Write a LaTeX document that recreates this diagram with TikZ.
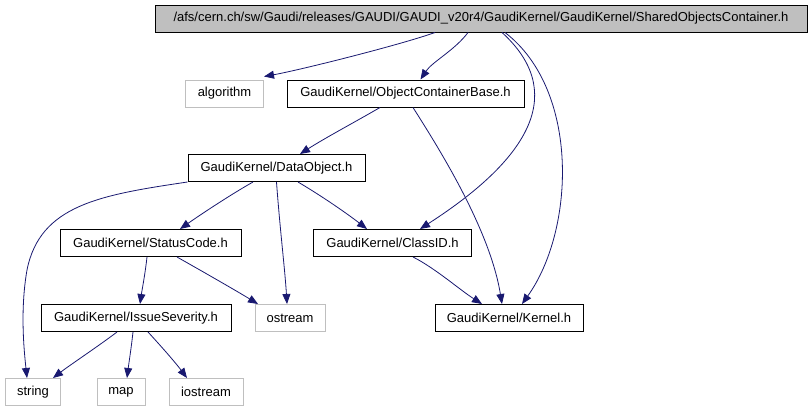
\documentclass[tikz,border=0pt]{standalone}
\usepackage{fontspec}
\setmainfont{Liberation Sans}
\usetikzlibrary{arrows.meta}

\definecolor{edgeblue}{HTML}{191970}
\definecolor{boxgray}{HTML}{BFBFBF}

\tikzset{every picture/.style={line width=0.75pt}}
\tikzset{
  incfile/.style={draw=black, line width=1pt, inner sep=0pt, minimum height=27, font=\fontsize{13}{15}\selectfont},
  sysfile/.style={incfile, draw=boxgray},
  rootfile/.style={incfile, fill=boxgray},
  incarrow/.style={draw=edgeblue, line width=0.8pt, -{Triangle[length=10pt,width=8pt]}, edgeblue}
}

\begin{document}
\begin{tikzpicture}[x=1pt,y=1pt,yscale=-1]
\useasboundingbox (0,0) rectangle (812,410);

%Files
\node[rootfile, minimum width=652] (shared) at (481,18.5) {/afs/cern.ch/sw/Gaudi/releases/GAUDI/GAUDI\_v20r4/GaudiKernel/GaudiKernel/SharedObjectsContainer.h};
\node[sysfile, minimum width=78] (algorithm) at (224.5,93.5) {algorithm};
\node[incfile, minimum width=237] (objbase) at (405.5,93.5) {GaudiKernel/ObjectContainerBase.h};
\node[incfile, minimum width=177] (dataobj) at (276.5,168) {GaudiKernel/DataObject.h};
\node[incfile, minimum width=181] (statuscode) at (150.5,243) {GaudiKernel/StatusCode.h};
\node[incfile, minimum width=158] (classid) at (392.5,243) {GaudiKernel/ClassID.h};
\node[incfile, minimum width=190] (severity) at (136,318) {GaudiKernel/IssueSeverity.h};
\node[sysfile, minimum width=70] (ostream) at (290,318) {ostream};
\node[incfile, minimum width=148] (kernel) at (509,318) {GaudiKernel/Kernel.h};
\node[sysfile, minimum width=55] (string) at (33,392) {string};
\node[sysfile, minimum width=48] (map) at (121,392) {map};
\node[sysfile, minimum width=74] (iostream) at (206,392) {iostream};

%Includes of SharedObjectsContainer.h
\draw[incarrow] ([xshift=-46pt]shared.south) .. controls (400,45) and (300,70) .. ([yshift=-3pt]algorithm.north east);
\draw[incarrow] ([xshift=-13pt]shared.south) .. controls (455,50) and (432,62) .. ([xshift=15pt]objbase.north);
\draw[incarrow] ([xshift=21pt]shared.south) .. controls (565,90) and (535,155) .. ([xshift=27.5pt]classid.north);
\draw[incarrow] ([xshift=24pt]shared.south) .. controls (580,90) and (575,230) .. ([xshift=13pt]kernel.north);

%Includes of ObjectContainerBase.h
\draw[incarrow] ([xshift=-25.5pt]objbase.south) .. controls (355,122) and (325,138) .. ([xshift=23.5pt]dataobj.north);
\draw[incarrow] ([xshift=7.5pt]objbase.south) .. controls (440,150) and (490,230) .. ([xshift=-7pt]kernel.north);

%Includes of DataObject.h
\draw[incarrow] (dataobj.south west) .. controls (100,195) and (40,205) .. (27,270) .. controls (20,310) and (24,350) .. ([xshift=-6pt]string.north);
\draw[incarrow] ([xshift=-23.5pt]dataobj.south) .. controls (230,195) and (200,215) .. ([xshift=29.5pt]statuscode.north);
\draw[incarrow] (dataobj.south) .. controls (280,230) and (285,270) .. ([xshift=-3pt]ostream.north);
\draw[incarrow] ([xshift=21.5pt]dataobj.south) .. controls (320,195) and (345,212) .. ([xshift=-25.5pt]classid.north);

%Includes of StatusCode.h
\draw[incarrow] ([xshift=-3.5pt]statuscode.south) .. controls (145,275) and (142,290) .. ([xshift=4pt]severity.north);
\draw[incarrow] ([xshift=26.5pt]statuscode.south) .. controls (200,270) and (235,290) .. ([xshift=-32pt]ostream.north);

%Includes of IssueSeverity.h
\draw[incarrow] ([xshift=-19pt]severity.south) .. controls (100,345) and (70,365) .. ([xshift=20pt]string.north);
\draw[incarrow] ([xshift=-3pt]severity.south) .. controls (131,350) and (129,362) .. ([xshift=6pt]map.north);
\draw[incarrow] ([xshift=12pt]severity.south) .. controls (160,345) and (175,362) .. ([xshift=-19pt]iostream.north);

%Includes of ClassID.h
\draw[incarrow] ([xshift=20.5pt]classid.south) .. controls (435,268) and (460,290) .. ([xshift=-27pt]kernel.north);

\end{tikzpicture}
\end{document}
